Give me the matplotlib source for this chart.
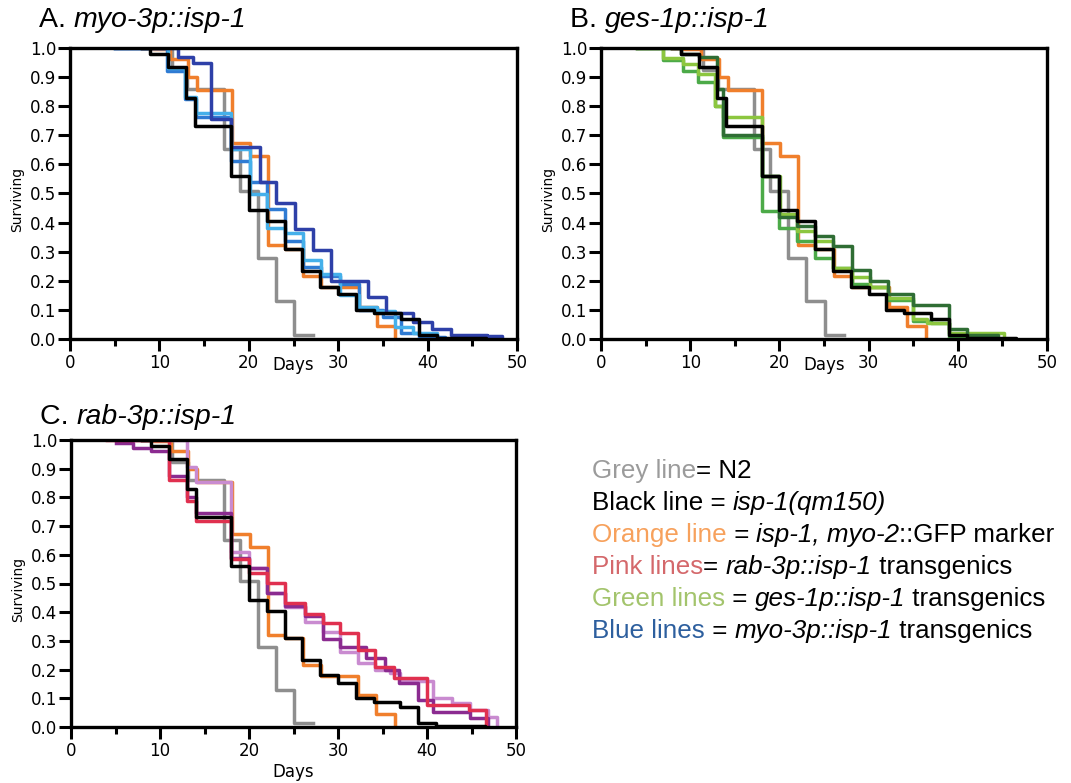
import matplotlib
matplotlib.use("Agg")
import matplotlib.pyplot as plt
from matplotlib.ticker import MultipleLocator, FormatStrFormatter

# shared controls (same in all 3 panels)
grey_days = [8, 11.4, 13.1, 17.2, 19, 21, 23, 25.1, 27.2]
grey_surv = [1.0, 0.925, 0.86, 0.653, 0.51, 0.28, 0.13, 0.015, 0.015]
black_days = [8, 9, 11, 13, 14, 18, 20, 22, 24, 26, 28, 30, 32, 34, 37, 39, 41, 46.5]
black_surv = [1.0, 0.979, 0.934, 0.828, 0.731, 0.56, 0.443, 0.405, 0.31, 0.233, 0.18, 0.155, 0.10, 0.088, 0.07, 0.015, 0.005, 0.0]
orange_days = [8, 9.3, 11.2, 13.2, 14.2, 18.1, 20.1, 22.1, 24, 26.1, 28.1, 32.3, 34.3, 36.4]
orange_surv = [1.0, 0.995, 0.962, 0.90, 0.855, 0.672, 0.628, 0.322, 0.31, 0.215, 0.179, 0.11, 0.045, 0.0]

# A: myo-3p::isp-1 lines
blueA1_days = [5, 12.1, 13.8, 15.8, 18, 21.2, 23, 25.2, 27.2, 29.2, 33.3, 35.3, 38.4, 40.5, 42.6, 46.7, 48.3]
blueA1_surv = [1.0, 0.968, 0.948, 0.757, 0.659, 0.54, 0.469, 0.379, 0.307, 0.201, 0.145, 0.091, 0.06, 0.034, 0.014, 0.01, 0.0]
blueA2_days = [5, 10.8, 12.9, 14.1, 18, 20.1, 22, 24, 26.1, 28.1, 30.2, 32.3, 35, 37, 39, 42]
blueA2_surv = [1.0, 0.92, 0.824, 0.762, 0.611, 0.538, 0.447, 0.336, 0.249, 0.215, 0.19, 0.10, 0.077, 0.02, 0.008, 0.0]
blueA3_days = [5, 11, 12.9, 14.1, 18, 20.1, 22, 24, 26.1, 28.1, 30.2, 32.3, 34.3, 36.4, 38.4, 41]
blueA3_surv = [1.0, 0.93, 0.83, 0.776, 0.652, 0.50, 0.382, 0.364, 0.272, 0.224, 0.152, 0.11, 0.095, 0.042, 0.02, 0.0]

# B: ges-1p::isp-1 lines
greenB1_days = [4, 9, 11, 13, 13.7, 18, 20, 22, 24, 26, 28.1, 30.2, 32.2, 35, 39, 41, 44.5]
greenB1_surv = [1.0, 0.98, 0.97, 0.86, 0.70, 0.56, 0.42, 0.387, 0.353, 0.318, 0.238, 0.198, 0.155, 0.117, 0.033, 0.015, 0.0]
greenB2_days = [4, 7, 9.2, 10.9, 12.8, 13.7, 18, 20, 22, 24, 26, 28.1, 30.2, 32.2, 35, 37, 39, 41]
greenB2_surv = [1.0, 0.96, 0.922, 0.882, 0.80, 0.693, 0.44, 0.38, 0.336, 0.278, 0.245, 0.19, 0.18, 0.135, 0.063, 0.054, 0.005, 0.0]
greenB3_days = [4, 7, 9.2, 10.9, 12.8, 13.7, 18, 20.1, 22, 24, 26, 28.1, 30.2, 32.2, 35, 36.5, 39, 41, 45.2]
greenB3_surv = [1.0, 0.965, 0.945, 0.91, 0.80, 0.762, 0.56, 0.43, 0.37, 0.336, 0.245, 0.214, 0.18, 0.14, 0.07, 0.055, 0.02, 0.02, 0.0]

# C: rab-3p::isp-1 lines
pinkC1_days = [4, 11, 13, 14, 18, 20, 22, 24, 26.3, 28.3, 30.2, 32.3, 34.2, 36.3, 40, 44.7, 46.6]
pinkC1_surv = [1.0, 0.862, 0.787, 0.718, 0.585, 0.538, 0.503, 0.433, 0.394, 0.363, 0.329, 0.268, 0.21, 0.17, 0.077, 0.06, 0.0]
pinkC2_days = [5, 7, 9, 11, 13, 14, 18, 20, 22, 24, 26.3, 28.3, 30.2, 33.2, 35.3, 36.9, 39, 40.7, 44.8, 46.9]
pinkC2_surv = [0.99, 0.973, 0.962, 0.875, 0.80, 0.745, 0.59, 0.555, 0.466, 0.42, 0.386, 0.306, 0.28, 0.24, 0.199, 0.152, 0.094, 0.054, 0.031, 0.0]
pinkC3_days = [5, 13, 14, 18, 20, 22, 24, 26.3, 28.3, 30.2, 32.3, 34.2, 35.8, 37, 40.7, 42.8, 44.8, 46.9, 47.9]
pinkC3_surv = [1.0, 0.907, 0.855, 0.61, 0.553, 0.466, 0.419, 0.367, 0.33, 0.262, 0.223, 0.2, 0.188, 0.16, 0.10, 0.083, 0.06, 0.035, 0.0]

GREY = "#8e8e8e"
ORANGE = "#f07f2c"
LW = 2.5

# letter, name, axes box (px: left, top, right, bottom), title baseline px, "Days" centre px, lines
panels = [
    ("A. ", "myo-3p::isp-1", [70, 48, 517, 339], 27, 365,
     [(blueA2_days, blueA2_surv, "#2f7bd3"), (blueA3_days, blueA3_surv, "#45b0ea"),
      (blueA1_days, blueA1_surv, "#2e40a8")]),
    ("B. ", "ges-1p::isp-1", [601, 48, 1047, 339], 27, 365,
     [(greenB2_days, greenB2_surv, "#4caa48"), (greenB3_days, greenB3_surv, "#8cc63f"),
      (greenB1_days, greenB1_surv, "#2f6d34")]),
    ("C. ", "rab-3p::isp-1", [71, 440, 516, 727], 424, 772,
     [(pinkC3_days, pinkC3_surv, "#c98bd0"), (pinkC2_days, pinkC2_surv, "#8b2b90"),
      (pinkC1_days, pinkC1_surv, "#e0304f")]),
]

W, H = 1071, 783
fig = plt.figure(figsize=(W / 100, H / 100), dpi=100)
renderer = fig.canvas.get_renderer()
TFONT = ["Liberation Sans", "DejaVu Sans"]


def text_width(s, size, style):
    # measure with bars so that leading/trailing spaces count
    t1 = fig.text(0, 0, "|" + s + "|", fontsize=size, style=style, family=TFONT)
    t2 = fig.text(0, 0, "||", fontsize=size, style=style, family=TFONT)
    w = t1.get_window_extent(renderer).width - t2.get_window_extent(renderer).width
    t1.remove()
    t2.remove()
    return w


def rich_text(x, y, parts, size):
    # x, y in pixels from top-left, baseline
    for s, color, style in parts:
        fig.text(x / W, 1 - y / H, s, fontsize=size, color=color, style=style,
                 family=TFONT, va="baseline", ha="left")
        x += text_width(s, size, style)


for letter, name, box, title_y, days_y, lines in panels:
    l, t, r, b = box
    ax = fig.add_axes([l / W, 1 - b / H, (r - l) / W, (b - t) / H])
    ax.step(grey_days, grey_surv, where="post", color=GREY, lw=LW)
    ax.step(orange_days, orange_surv, where="post", color=ORANGE, lw=LW)
    for d, s, c in lines:
        ax.step(d, s, where="post", color=c, lw=LW)
    ax.step(black_days, black_surv, where="post", color="black", lw=LW)
    ax.set_xlim(0, 50)
    ax.set_ylim(0, 1.0)
    ax.xaxis.set_major_locator(MultipleLocator(10))
    ax.xaxis.set_minor_locator(MultipleLocator(5))
    ax.yaxis.set_major_locator(MultipleLocator(0.1))
    ax.yaxis.set_major_formatter(FormatStrFormatter("%.1f"))
    for sp in ax.spines.values():
        sp.set_linewidth(2.4)
    ax.tick_params(which="major", direction="out", length=8.5, width=2.2, labelsize=12, pad=2.5)
    ax.tick_params(which="minor", direction="out", length=5, width=2.2)
    ax.tick_params(axis="y", pad=1.5)
    ax.set_ylabel("Surviving", fontsize=10)
    ax.yaxis.set_label_coords(-0.103, 0.48)
    ax.set_xlabel("Days", fontsize=12, va="center")
    ax.xaxis.set_label_coords(0.5, (b - days_y) / (b - t))
    rich_text(l - 31, title_y, [(letter, "black", "normal"), (name, "black", "italic")], 20.5)

K = "black"
legend_rows = [
    [("Grey line", "#9b9b9b", "normal"), ("= N2", K, "normal")],
    [("Black line = ", K, "normal"), ("isp-1(qm150)", K, "italic")],
    [("Orange line", "#f7a15c", "normal"), (" = ", K, "normal"), ("isp-1, myo-2", K, "italic"),
     ("::GFP marker", K, "normal")],
    [("Pink lines", "#d4686b", "normal"), ("= ", K, "normal"), ("rab-3p::isp-1", K, "italic"),
     (" transgenics", K, "normal")],
    [("Green lines", "#a3c46c", "normal"), (" = ", K, "normal"), ("ges-1p::isp-1", K, "italic"),
     (" transgenics", K, "normal")],
    [("Blue lines", "#2d5f9e", "normal"), (" = ", K, "normal"), ("myo-3p::isp-1", K, "italic"),
     (" transgenics", K, "normal")],
]
for i, row in enumerate(legend_rows):
    rich_text(592, 478 + i * 32, row, 18.7)

fig.savefig("out.png", dpi=100)
